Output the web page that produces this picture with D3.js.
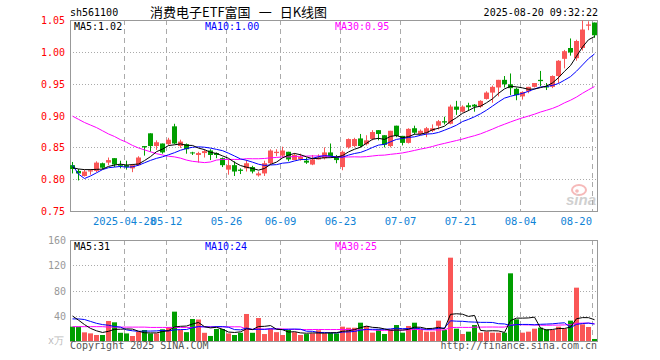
<!DOCTYPE html>
<html>
<head>
<meta charset="utf-8">
<script src="https://cdn.jsdelivr.net/npm/d3@7"></script>
<style>
  body { margin: 0; background: #fff; }
  svg { display: block; }
</style>
</head>
<body>
<div id="wrapper"></div>
<script>
// trading days shown (2025)
const dates = [
  "04-15","04-16","04-17","04-18","04-21","04-22","04-23","04-24","04-25","04-28","04-29","04-30",
  "05-06","05-07","05-08","05-09","05-12","05-13","05-14","05-15","05-16","05-19","05-20","05-21","05-22","05-23","05-26","05-27","05-28","05-29","05-30",
  "06-03","06-04","06-05","06-06","06-09","06-10","06-11","06-12","06-13","06-16","06-17","06-18","06-19","06-20","06-23","06-24","06-25","06-26","06-27","06-30",
  "07-01","07-02","07-03","07-04","07-07","07-08","07-09","07-10","07-11","07-14","07-15","07-16","07-17","07-18","07-21","07-22","07-23","07-24","07-25","07-28","07-29","07-30","07-31",
  "08-01","08-04","08-05","08-06","08-07","08-08","08-11","08-12","08-13","08-14","08-15","08-18","08-19","08-20"
]

const opens = [
  .822,.813,.805,.812,.813,.825,.826,.833,.823,.822,.817,.822,.852,.872,.852,.856,.855,.883,.852,.855,
  .842,.838,.841,.845,.841,.833,.815,.822,.815,.817,.819,.806,.809,.825,.841,.837,.843,.830,.831,.829,
  .823,.831,.833,.842,.835,.819,.850,.852,.864,.855,.863,.877,.869,.852,.884,.868,.857,.880,.871,.872,
  .876,.884,.891,.887,.914,.906,.916,.917,.914,.926,.936,.944,.956,.949,.942,.930,.938,.945,.956,.946,
  .945,.962,.989,1.006,.990,1.006,1.041,1.046
]
const highs = [
  .827,.816,.815,.816,.828,.826,.834,.833,.829,.829,.824,.836,.852,.872,.861,.856,.865,.887,.862,.856,
  .843,.843,.847,.847,.842,.834,.831,.828,.817,.830,.821,.812,.829,.847,.847,.851,.843,.841,.840,.834,
  .838,.839,.850,.856,.838,.845,.864,.865,.871,.869,.877,.877,.869,.876,.884,.868,.880,.884,.878,.882,
  .886,.893,.898,.917,.923,.916,.920,.918,.924,.938,.947,.956,.962,.966,.944,.938,.945,.951,.970,.951,
  .963,.987,1.003,1.021,1.019,1.049,1.048,1.046
]
const lows = [
  .809,.798,.804,.807,.811,.816,.822,.819,.817,.815,.811,.821,.837,.843,.846,.840,.853,.855,.849,.840,
  .838,.826,.834,.830,.833,.819,.807,.805,.808,.812,.809,.804,.805,.823,.836,.834,.828,.830,.829,.824,
  .822,.831,.831,.834,.825,.814,.848,.850,.850,.853,.861,.861,.850,.850,.866,.853,.856,.870,.869,.866,
  .874,.878,.886,.886,.901,.905,.907,.906,.912,.925,.920,.930,.944,.932,.924,.925,.935,.944,.946,.940,
  .943,.951,.974,.994,.986,1.002,1.034,1.022
]
const closes = [
  .816,.809,.812,.814,.826,.818,.830,.823,.821,.819,.822,.834,.850,.852,.858,.842,.862,.856,.859,.847,
  .841,.841,.844,.838,.838,.822,.822,.812,.813,.825,.812,.809,.825,.845,.843,.845,.831,.838,.835,.826,
  .831,.834,.842,.836,.830,.843,.863,.863,.852,.861,.874,.871,.854,.876,.868,.857,.879,.873,.876,.880,
  .880,.891,.889,.914,.909,.914,.913,.914,.923,.936,.945,.956,.949,.943,.932,.937,.945,.951,.954,.944,
  .962,.986,1.001,.999,1.017,1.035,1.043,1.026
]
// volume, 10k lots
const volumes = [
  22.7,22.7,13.7,12.1,9.5,9.5,31.7,29.6,13,12,7.9,14.8,17.4,12,12,18.5,22,46.5,17.4,14,
  34.8,34,13,8,19,19,12,9.5,13,42.8,13,36.4,11,19,14,9.5,17.4,14,9.5,11,
  12,17,12,13,12.1,22.7,21.1,21,29,23.8,13.2,18.5,11.1,18.5,25.3,13.2,23.8,29,17.4,14.8,
  14.8,32.2,17.4,132,19.5,11.1,14.8,25.3,13.2,14.8,13.2,13.2,13.2,107.2,34.3,13.2,14.8,19.5,21.1,18.5,
  17.4,22.7,19.5,32.2,84.5,26.4,22.2,3.2
]

// moving-average values before a full window exists
const ma5Head = [.818,.816,.815,.815]
const ma10Head = [.822,.808,.801,.805,.810,.815,.818,.819,.820]
const ma30Head = [.899,.894,.889,.885,.881,.876,.871,.867,.862,.858,.853,.849,.846,.843,.840,
  .838,.836,.835,.833,.830,.828,.827,.826,.827,.830,.831,.831,.831,.831]
const vma5Head = [39.6,33,26,20]
const vma10Head = [35,35,34,31,28,26,25,23,22]
const vma30Head = [22.7,22.7,22.7,22.7,22.7,22.7,22,22,22,22,22,22,22,21.5,21.5,
  21.5,21.5,21.5,21.5,21.5,21.5,22.5,22.5,22.5,22.5,22.5,22.5,22.5,22.5]

const priceTicks = [0.75,0.80,0.85,0.90,0.95,1.00,1.05]
const volTicks = [40,80,120,160]
const tickDates = ["04-28","05-12","05-26","06-09","06-23","07-07","07-21","08-04","08-20"]
const tickLabels = ["2025-04-28","05-12","05-26","06-09","06-23","07-07","07-21","08-04","08-20"]

const priceLegend = [["MA5:1.02","#000"],["MA10:1.00","#0000ff"],["MA30:0.95","#ff00ff"]]
const volLegend = [["MA5:31","#000"],["MA10:24","#0000ff"],["MA30:25","#ff00ff"]]

const RED = "#fa5656"
const GREEN = "#009e00"
const MONO = "'DejaVu Sans Mono', monospace"

const movingAvg = (values, n, head) =>
  values.map((v, i) => i < n - 1 ? head[i] : d3.mean(values.slice(i - n + 1, i + 1)))

const data = dates.map((d, i) => ({
  date: d, open: opens[i], high: highs[i], low: lows[i], close: closes[i], vol: volumes[i]
}))

// layout
const width = 660, height = 360
const plotLeft = 70, plotRight = 598
const price = { top: 20, bottom: 211 }
const vol = { top: 240, bottom: 341 }

const svg = d3.select("#wrapper").append("svg")
  .attr("width", width).attr("height", height)
  .style("font-family", MONO)

const x = d3.scaleBand().domain(dates).range([plotLeft, plotRight]).padding(0)
const yPrice = d3.scaleLinear().domain([0.75, 1.05]).range([price.bottom, price.top])
const yVol = d3.scaleLinear().domain([0, 160]).range([vol.bottom, vol.top])

const barW = 5
const cx = d => x(d) + barW / 2

// grid
const grid = svg.append("g")
grid.selectAll(".hp").data(priceTicks.slice(1, -1)).join("line")
  .attr("x1", plotLeft).attr("x2", plotRight)
  .attr("y1", d => Math.round(yPrice(d)) + 0.5).attr("y2", d => Math.round(yPrice(d)) + 0.5)
  .attr("stroke", "#aaa").attr("stroke-dasharray", "1,2")
grid.selectAll(".hv").data(volTicks.slice(0, -1)).join("line")
  .attr("x1", plotLeft).attr("x2", plotRight)
  .attr("y1", d => Math.round(yVol(d)) + 0.5).attr("y2", d => Math.round(yVol(d)) + 0.5)
  .attr("stroke", "#aaa").attr("stroke-dasharray", "1,2")
;[price, vol].forEach(p => {
  grid.append("g").selectAll("line").data(tickDates).join("line")
    .attr("x1", d => x(d) + 0.5).attr("x2", d => x(d) + 0.5)
    .attr("y1", p.top).attr("y2", p.bottom)
    .attr("stroke", "#aaa").attr("stroke-dasharray", "5,4")
})

// frames
;[price, vol].forEach(p => {
  svg.append("rect")
    .attr("x", plotLeft + 0.5).attr("y", p.top + 0.5)
    .attr("width", plotRight - plotLeft - 1).attr("height", p.bottom - p.top)
    .attr("fill", "none").attr("stroke", "#999")
})

// sina watermark
const logo = svg.append("g").attr("opacity", 0.55)
logo.append("ellipse").attr("cx", 579).attr("cy", 190).attr("rx", 7).attr("ry", 5)
  .attr("fill", "none").attr("stroke", "#f08080").attr("stroke-width", 2)
logo.append("circle").attr("cx", 577).attr("cy", 191).attr("r", 1.8).attr("fill", "#f08080")
logo.append("text").attr("x", 566).attr("y", 205)
  .attr("font-family", "'Liberation Sans', Arial, sans-serif")
  .attr("font-size", 15).attr("font-weight", "bold").attr("font-style", "italic")
  .attr("fill", "#aaa").text("sina")

// candles
const isUp = d => d.close >= d.open
const candles = svg.append("g").selectAll("g").data(data).join("g")
candles.append("line")
  .attr("x1", d => x(d.date) + 2.5).attr("x2", d => x(d.date) + 2.5)
  .attr("y1", d => yPrice(d.high)).attr("y2", d => yPrice(d.low))
  .attr("stroke", d => isUp(d) ? RED : GREEN)
candles.append("rect")
  .attr("x", d => x(d.date))
  .attr("y", d => yPrice(Math.max(d.open, d.close)))
  .attr("width", barW)
  .attr("height", d => Math.max(1, Math.abs(yPrice(d.open) - yPrice(d.close))))
  .attr("fill", d => isUp(d) ? RED : GREEN)

// volume bars
svg.append("g").selectAll("rect").data(data).join("rect")
  .attr("x", d => x(d.date))
  .attr("y", d => yVol(d.vol))
  .attr("width", barW)
  .attr("height", d => yVol(0) - yVol(d.vol))
  .attr("fill", d => isUp(d) ? RED : GREEN)

// moving average lines
const drawLine = (values, y, color) => {
  const line = d3.line().x((v, i) => cx(dates[i])).y(v => y(v))
  svg.append("path").datum(values)
    .attr("d", line).attr("fill", "none").attr("stroke", color).attr("stroke-width", 1)
}
drawLine(movingAvg(closes, 30, ma30Head), yPrice, "#ff00ff")
drawLine(movingAvg(closes, 10, ma10Head), yPrice, "#0000ff")
drawLine(movingAvg(closes, 5, ma5Head), yPrice, "#000")
drawLine(movingAvg(volumes, 30, vma30Head), yVol, "#ff00ff")
drawLine(movingAvg(volumes, 10, vma10Head), yVol, "#0000ff")
drawLine(movingAvg(volumes, 5, vma5Head), yVol, "#000")

// axes labels
svg.append("g").selectAll("text").data(priceTicks).join("text")
  .attr("x", 65).attr("y", d => yPrice(d) + 4)
  .attr("text-anchor", "end").attr("font-size", 10).attr("fill", "#f00")
  .text(d => d.toFixed(2))
svg.append("g").selectAll("text").data(volTicks).join("text")
  .attr("x", 66).attr("y", d => yVol(d) + 4)
  .attr("text-anchor", "end").attr("font-size", 10).attr("fill", "#999")
  .text(d => d)
svg.append("text").attr("x", 64).attr("y", 344).attr("text-anchor", "end")
  .attr("font-size", 10).attr("fill", "#bbb").text("x万")

svg.append("g").selectAll("text").data(tickDates).join("text")
  .attr("x", (d, i) => i === tickDates.length - 1 ? x(d) : x(d) + 0.5)
  .attr("y", 225)
  .attr("text-anchor", (d, i) => i === tickDates.length - 1 ? "end" : "middle")
  .attr("font-size", 10.5).attr("fill", "#1083d6")
  .text((d, i) => tickLabels[i])

// legends
const legendX = [74, 205, 335]
priceLegend.forEach(([t, c], i) => {
  svg.append("text").attr("x", legendX[i]).attr("y", 29.5)
    .attr("font-size", 10).attr("fill", c).text(t)
})
volLegend.forEach(([t, c], i) => {
  svg.append("text").attr("x", legendX[i]).attr("y", 249.5)
    .attr("font-size", 10).attr("fill", c).text(t)
})

// header and footer
svg.append("text").attr("x", 70).attr("y", 16).attr("font-size", 10).attr("fill", "#000").text("sh561100")
const title = svg.append("text").attr("x", 150).attr("y", 17)
  .attr("font-family", "'Noto Sans CJK SC', sans-serif").attr("font-size", 13).attr("fill", "#000")
title.append("tspan").text("消费电子ETF富国")
title.append("tspan").attr("dx", 8).text("一")
title.append("tspan").attr("dx", 8).text("日K线图")
svg.append("text").attr("x", 598).attr("y", 16).attr("text-anchor", "end")
  .attr("font-size", 10).attr("fill", "#000").text("2025-08-20 09:32:22")
svg.append("text").attr("x", 70).attr("y", 349).attr("font-size", 10).attr("fill", "#555")
  .text("Copyright 2025 SINA.COM")
svg.append("text").attr("x", 597).attr("y", 349).attr("text-anchor", "end")
  .attr("font-size", 10).attr("fill", "#555").text("http://finance.sina.com.cn")
</script>
</body>
</html>
